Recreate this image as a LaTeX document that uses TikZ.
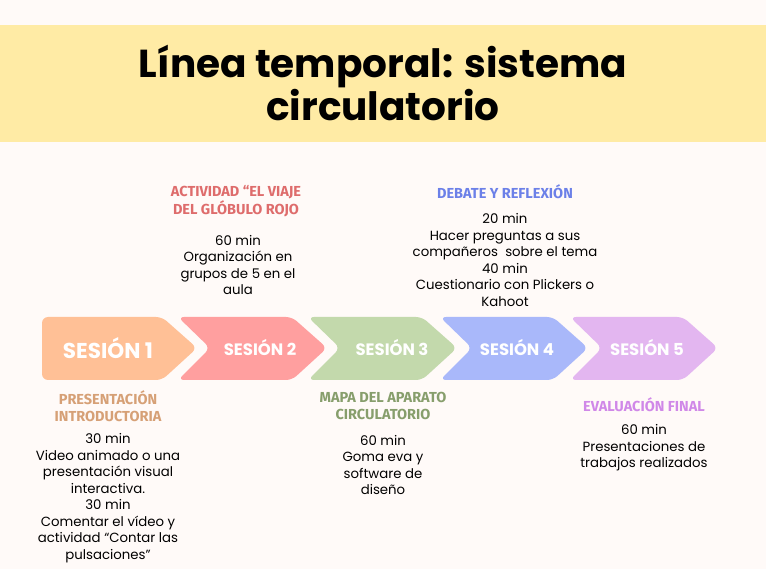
\documentclass[tikz,border=0pt]{standalone}
\usepackage{fontspec}
\setmainfont{Poppins}
\newfontfamily\headfont{Fira Sans}
\begin{document}
\begin{tikzpicture}[x=1pt,y=-1pt,
  chev/.style={rounded corners=6pt},
  slabel/.style={text=white,font=\bfseries\fontsize{16.5}{18}\selectfont},
  head/.style={align=center,font=\headfont\bfseries\fontsize{14.5}{17.5}\selectfont},
  body/.style={align=center,font=\fontsize{13.3}{16.5}\selectfont,text=black}]
\useasboundingbox (0,0) rectangle (766,569);
\fill[fill={rgb,255:red,255;green,250;blue,248}] (0,0) rectangle (766,569);
\fill[fill={rgb,255:red,255;green,235;blue,165}] (0,25) rectangle (766,142);
\node[font=\bfseries\fontsize{39}{40}\selectfont,align=center] (title) at (383,83) {Línea temporal: sistema\\circulatorio};
\definecolor{c1}{RGB}{255,192,150}
\definecolor{c2}{RGB}{255,159,159}
\definecolor{c3}{RGB}{195,217,172}
\definecolor{c4}{RGB}{169,184,250}
\definecolor{c5}{RGB}{227,182,240}
\definecolor{h1}{RGB}{214,160,118}
\definecolor{h2}{RGB}{222,108,108}
\definecolor{h3}{RGB}{135,158,108}
\definecolor{h4}{RGB}{108,128,232}
\definecolor{h5}{RGB}{208,136,232}
\fill[c1,chev] (42,317) -- (162,317) -- (197,348) -- (162,380) -- (42,380) -- cycle;
\fill[c2,chev] (178,317) -- (292,317) -- (327,348) -- (292,380) -- (178,380) -- (210,348) -- cycle;
\fill[c3,chev] (308,317) -- (422,317) -- (457,348) -- (422,380) -- (308,380) -- (340,348) -- cycle;
\fill[c4,chev] (440,317) -- (553,317) -- (588,348) -- (553,380) -- (440,380) -- (472,348) -- cycle;
\fill[c5,chev] (570,317) -- (683,317) -- (718,348) -- (683,380) -- (570,380) -- (602,348) -- cycle;
\node[slabel,font=\bfseries\fontsize{21.5}{24}\selectfont] (s1) at (108,348) {SESIÓN 1};
\node[slabel] (s2) at (260,348) {SESIÓN 2};
\node[slabel] (s3) at (392,348) {SESIÓN 3};
\node[slabel] (s4) at (517,348) {SESIÓN 4};
\node[slabel] (s5) at (647,348) {SESIÓN 5};
\node[head,text=h2] (h2) at (236,201) {ACTIVIDAD “EL VIAJE\\DEL GLÓBULO ROJO};
\node[body] (b2) at (238,265) {60 min\\Organización en\\grupos de 5 en el\\aula};
\node[head,text=h4] (h4) at (505,192) {DEBATE Y REFLEXIÓN};
\node[body] (b4) at (505,260) {20 min\\Hacer preguntas a sus\\compañeros\ \ sobre el tema\\40 min\\Cuestionario con Plickers o\\Kahoot};
\node[head,text=h1] (h1) at (108,406) {PRESENTACIÓN\\INTRODUCTORIA};
\node[body] (b1) at (108,498) {30 min\\Video animado o una\\presentación visual\\interactiva.\\30 min\\Comentar el vídeo y\\actividad “Contar las\\pulsaciones”};
\node[head,text=h3] (h3) at (383,406) {MAPA DEL APARATO\\CIRCULATORIO};
\node[body] (b3) at (383,465) {60 min\\Goma eva y\\software de\\diseño};
\node[head,text=h5] (h5) at (644,405) {EVALUACIÓN FINAL};
\node[body] (b5) at (644,448) {60 min\\Presentaciones de\\trabajos realizados};
\end{tikzpicture}
\end{document}
